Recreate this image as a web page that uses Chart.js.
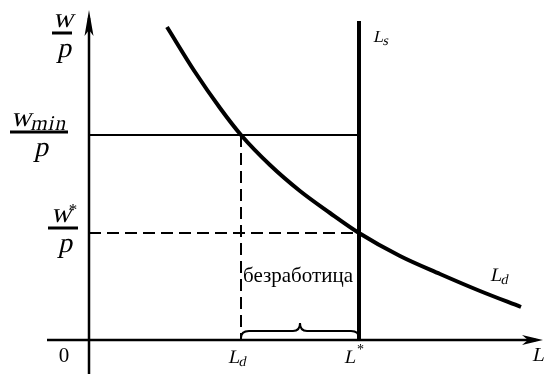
<!DOCTYPE html>
<html>
<head>
<meta charset="utf-8">
<script src="https://cdn.jsdelivr.net/npm/chart.js@4"></script>
<style>
html,body{margin:0;padding:0;background:#fff;}
#wrap{width:545px;height:374px;position:relative;}
</style>
</head>
<body>
<div id="wrap"><canvas id="c" width="545" height="374"></canvas></div>
<script>
// ---- data ----
const curveL = [1.95, 2.65, 3.275, 3.8, 4.525, 5.275, 6.025, 6.75, 7.775, 8.775, 9.775, 10.8];
const curveW = [7.825, 6.7, 5.8, 5.125, 4.375, 3.725, 3.175, 2.675, 2.1, 1.65, 1.225, 0.825];
const Ld = 3.8;          // labour demanded at w_min
const Lstar = 6.75;      // equilibrium labour / supply
const Wmin = 5.125;      // minimum wage level
const Wstar = 2.675;     // equilibrium wage
const LsTop = 7.975;     // top of supply line
const xLabels = ['0', 'L', 'L', 'L'];
const gapLabel = 'безработица';

const curveData = curveL.map((l, i) => ({x: l, y: curveW[i]}));

const annot = {
  id: 'annot',
  afterDatasetsDraw(chart) {
    const ctx = chart.ctx;
    const xs = chart.scales.x, ys = chart.scales.y;
    const X = v => xs.getPixelForValue(v), Y = v => ys.getPixelForValue(v);
    const x0 = X(0), y0 = Y(0);
    ctx.save();
    ctx.fillStyle = '#000';
    ctx.strokeStyle = '#000';
    ctx.textBaseline = 'alphabetic';
    // slanted serif text (italic look)
    function it(str, x, y, size, align, spacing) {
      ctx.save();
      ctx.font = size + 'px "Liberation Serif"';
      ctx.textAlign = align || 'left';
      if (spacing) ctx.letterSpacing = spacing;
      ctx.translate(x, y);
      ctx.transform(1, 0, -0.22, 1, 0, 0);
      ctx.fillText(str, 0, 0);
      const w = ctx.measureText(str).width;
      ctx.restore();
      return w;
    }
    // axes
    ctx.lineWidth = 2.5;
    ctx.beginPath();
    ctx.moveTo(47, y0); ctx.lineTo(536, y0);
    ctx.moveTo(x0, chart.height); ctx.lineTo(x0, 18);
    ctx.stroke();
    // arrow heads
    ctx.beginPath();
    ctx.moveTo(x0, 10); ctx.lineTo(x0 + 4.5, 36); ctx.lineTo(x0, 30); ctx.lineTo(x0 - 4.5, 36); ctx.closePath();
    ctx.fill();
    ctx.beginPath();
    ctx.moveTo(543, y0); ctx.lineTo(522, y0 - 5); ctx.lineTo(528, y0); ctx.lineTo(522, y0 + 5); ctx.closePath();
    ctx.fill();

    // brace
    const bx1 = X(Ld), bx2 = X(Lstar), bm = (bx1 + bx2) / 2;
    const by0 = y0 - 2, by1 = y0 - 9, bt = y0 - 17;
    ctx.lineWidth = 2;
    ctx.beginPath();
    ctx.moveTo(bx1, by0);
    ctx.quadraticCurveTo(bx1, by1, bx1 + 8, by1);
    ctx.lineTo(bm - 7, by1);
    ctx.quadraticCurveTo(bm, by1, bm, bt);
    ctx.quadraticCurveTo(bm, by1, bm + 7, by1);
    ctx.lineTo(bx2 - 8, by1);
    ctx.quadraticCurveTo(bx2, by1, bx2, by0);
    ctx.stroke();

    // text label in the gap
    ctx.font = '21px "Liberation Serif"';
    ctx.textAlign = 'left';
    ctx.fillText(gapLabel, bx1 + 2, 282);

    // x-axis labels
    ctx.font = '21px "Liberation Serif"';
    ctx.textAlign = 'center';
    ctx.fillText(xLabels[0], 64, 362);
    function Lsub(x, y, s, size) {
      const w = it('L', x, y, size);
      it(s, x + w - 1, y + 3, 14);
    }
    Lsub(bx1 - 13, 363, 'd', 19);
    // L*
    it(xLabels[2], bx2 - 15, 363, 19);
    ctx.font = '14px "Liberation Serif"';
    ctx.textAlign = 'left';
    ctx.fillText('*', bx2 - 2, 354);
    // L axis name
    it(xLabels[3], 532, 361, 20);
    // Ls
    Lsub(X(Lstar) + 14, 42, 's', 17);
    // Ld (curve)
    Lsub(490, 281, 'd', 19);

    // y-axis fraction labels
    const fs = 28;
    function frac(cx, barY, barW, top, bottom) {
      ctx.fillRect(cx - barW / 2, barY - 1.5, barW, 3);
      top(cx, barY - 6);
      it(bottom, cx + 2, barY + 24, fs, 'center');
    }
    frac(62, 33, 20, (cx, by) => { it('w', cx + 1, by, fs, 'center'); }, 'p');
    frac(39, Y(Wmin) - 3, 58, (cx, by) => {
      const w = it('w', 11, by, fs);
      it('min', 11 + w - 1, by + 4, 21, 'left', '1px');
    }, 'p');
    frac(63, Y(Wstar) - 5, 30, (cx, by) => {
      it('w', cx - 2, by, fs, 'center');
      ctx.font = '17px "Liberation Serif"';
      ctx.textAlign = 'center';
      ctx.fillText('*', cx + 10, by - 7);
    }, 'p');
    ctx.restore();
  }
};

new Chart(document.getElementById('c'), {
  type: 'line',
  data: {
    datasets: [
      {data: curveData, borderColor: '#000', borderWidth: 4, pointRadius: 0, cubicInterpolationMode: 'monotone', fill: false},
      {data: [{x: Lstar, y: 0}, {x: Lstar, y: LsTop}], borderColor: '#000', borderWidth: 4, pointRadius: 0},
      {data: [{x: 0, y: Wmin}, {x: Lstar, y: Wmin}], borderColor: '#000', borderWidth: 2, pointRadius: 0},
      {data: [{x: 0, y: Wstar}, {x: Lstar, y: Wstar}], borderColor: '#000', borderWidth: 2, borderDash: [12, 6], pointRadius: 0},
      {data: [{x: Ld, y: Wmin}, {x: Ld, y: 0}], borderColor: '#000', borderWidth: 2, borderDash: [12, 6], pointRadius: 0}
    ]
  },
  options: {
    responsive: false,
    animation: false,
    devicePixelRatio: 1,
    layout: {padding: 0},
    plugins: {legend: {display: false}, tooltip: {enabled: false}},
    scales: {
      x: {type: 'linear', display: false, min: -2.225, max: 11.4},
      y: {type: 'linear', display: false, min: -0.85, max: 8.5}
    }
  },
  plugins: [annot, {
    id: 'bg',
    beforeDraw(chart) {
      const c = chart.ctx; c.save(); c.fillStyle = '#fff'; c.fillRect(0, 0, chart.width, chart.height); c.restore();
    }
  }]
});
</script>
</body>
</html>
